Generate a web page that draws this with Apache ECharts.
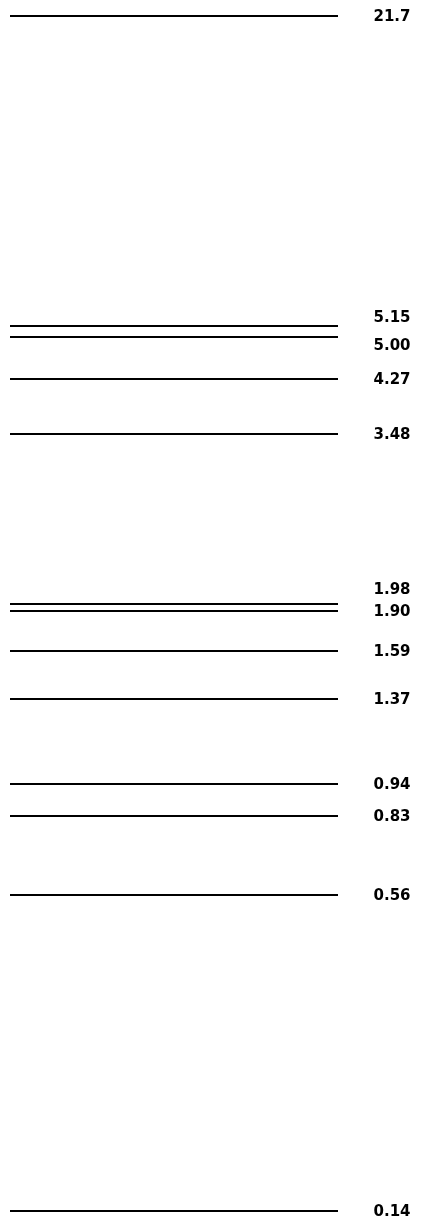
<!DOCTYPE html>
<html>
<head>
<meta charset="utf-8">
<script src="https://cdn.jsdelivr.net/npm/echarts@6/dist/echarts.min.js"></script>
<style>
html,body{margin:0;padding:0;background:#fff;}
#chart{width:422px;height:1220px;}
</style>
</head>
<body>
<div id="chart"></div>
<script>
// Band sizes (kb) and their migration distances (arbitrary units)
const bandLabels = ["21.7","5.15","5.00","4.27","3.48","1.98","1.90","1.59","1.37","0.94","0.83","0.56","0.14"];
const migration = [0, 31.0, 32.1, 36.3, 41.8, 58.8, 59.5, 63.5, 68.3, 76.8, 80.0, 87.9, 119.5];
// label vertical nudges (layout only)
const labelNudge = [0, -9, 8, 0, 0, -15, 0, 0, 0, 0, 0, 0, 0];

const chart = echarts.init(document.getElementById('chart'), null, {renderer:'canvas'});
const series = [];
bandLabels.forEach((lab, i) => {
  series.push({
    type: 'line',
    data: [[0, migration[i]], [1, migration[i]]],
    symbol: 'none',
    silent: true,
    lineStyle: {color: '#000', width: 2},
    animation: false
  });
});
series.push({
  type: 'scatter',
  symbolSize: 1,
  itemStyle: {opacity: 0},
  silent: true,
  animation: false,
  data: bandLabels.map((lab, i) => ({
    value: [1, migration[i]],
    label: {offset: [0, labelNudge[i] + 1]}
  })),
  label: {
    show: true,
    position: 'right',
    distance: 35,
    formatter: (p) => bandLabels[p.dataIndex],
    color: '#000',
    opacity: 1,
    fontSize: 15,
    fontWeight: 'bold',
    fontFamily: 'DejaVu Sans, sans-serif'
  }
});

chart.setOption({
  backgroundColor: '#fff',
  animation: false,
  grid: {left: 10, width: 328, top: 16, height: 1195, containLabel: false},
  xAxis: {type: 'value', min: 0, max: 1, show: false},
  yAxis: {type: 'value', min: 0, max: 119.5, inverse: true, show: false},
  series: series
});
</script>
</body>
</html>
